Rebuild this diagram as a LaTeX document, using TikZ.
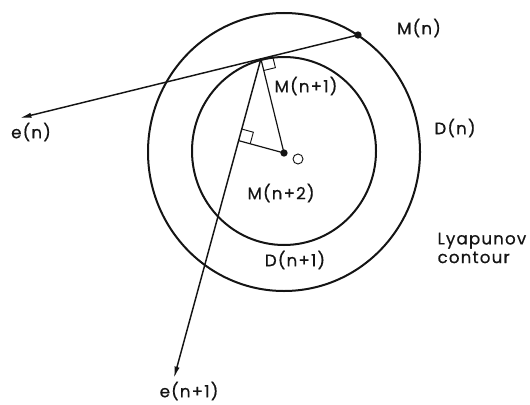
\documentclass[tikz,border=0pt]{standalone}
\usepackage{fontspec}
\setmainfont{Poppins}[LetterSpace=7, FakeBold=0.6]
\usepackage{tikz}
\usetikzlibrary{arrows.meta,calc}
\definecolor{ink}{RGB}{20,20,20}
\newcommand{\lblfont}{\fontsize{12.5}{14}\selectfont}
\tikzset{
  contour/.style={draw=ink, line width=1.5pt},
  ray/.style={-{Latex[length=3mm,width=1.4mm]}, line width=1.1pt, draw=ink},
  leg/.style={line width=0.9pt, draw=ink},
  rightangle/.style={line width=0.7pt, draw=ink},
  dot/.style={circle, fill=ink, inner sep=0pt, minimum size=5.5pt},
  origin/.style={circle, draw=ink, line width=0.7pt, inner sep=0pt, minimum size=7.5pt},
  txt/.style={font=\lblfont, text=ink, inner sep=1pt},
}

\begin{document}
\begin{tikzpicture}[x=0.75pt,y=0.75pt]
\useasboundingbox (0,0) rectangle (530,404);

% contours D(n) and D(n+1)
\draw[contour] (284,252) ellipse [x radius=136, y radius=139];
\draw[contour] (284,253) ellipse [x radius=92, y radius=94];

\coordinate (Mn) at (358,369);
\coordinate (en) at (20,286);
\coordinate (Mn2) at (284,251);
\coordinate (enn) at (174,26);
\coordinate (Mn1) at ($(Mn)!(Mn2)!(en)$);
\coordinate (foot) at ($(Mn1)!(Mn2)!(enn)$);

\draw[ray] (Mn) -- (en);
\draw[ray] (Mn1) -- (enn);
\draw[leg] (Mn1) -- (Mn2) -- (foot);

% right-angle marks
\foreach \c/\a/\b in {Mn1/Mn/Mn2, foot/Mn1/Mn2} {
  \draw[rightangle] ($(\c)!9pt!(\a)$)
    -- ($(\c)!9pt!(\a) + (\c)!9pt!(\b) - (\c)$)
    -- ($(\c)!9pt!(\b)$);
}

\node[dot] (dMn) at (Mn) {};
\node[dot] (dMn2) at (Mn2) {};
\node[origin] (o) at (298,245) {};

\node[txt] (lMn) at (419,376) {M(n)};
\node[txt] (lMn1) at (306,318) {M(n+1)};
\node[txt] (len) at (31,272) {e(n)};
\node[txt] (lDn) at (455,276) {D(n)};
\node[txt] (lMn2) at (281,211) {M(n+2)};
\node[txt] (lDn1) at (295,144) {D(n+1)};
\node[txt, align=left, anchor=west] (lyap) at (436,156) {Lyapunov\\contour};
\node[txt] (lenn) at (189,13) {e(n+1)};

\end{tikzpicture}
\end{document}
